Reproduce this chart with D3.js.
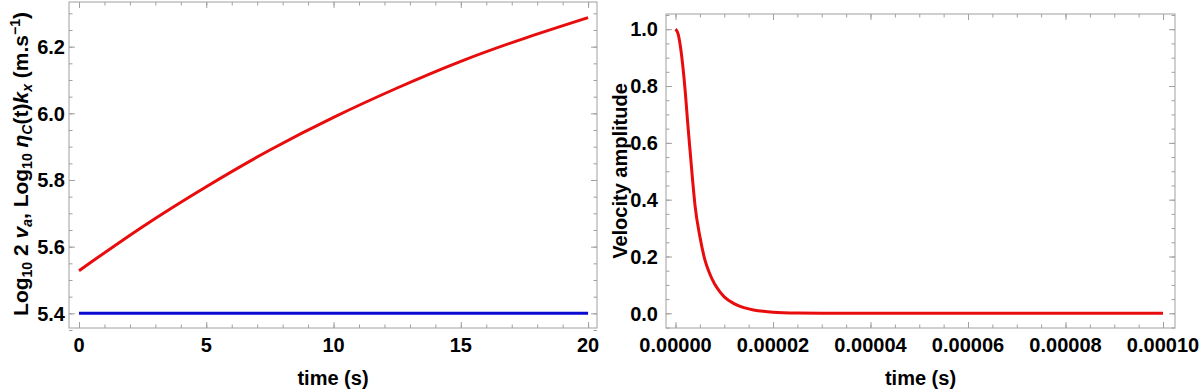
<!DOCTYPE html>
<html lang="en">

<head>
  <meta charset="UTF-8">
  <title>Velocity plots</title>
  <style>
    body { margin: 0; background: #fff; }
    text { font-family: "Liberation Sans", Arial, sans-serif; font-weight: bold; fill: #000; }
  </style>
</head>

<body>
  <script src="https://cdnjs.cloudflare.com/ajax/libs/d3/7.8.5/d3.min.js"></script>
  <script>
    // left panel data (time in s)
    let leftTime = [0, 2.5, 5, 7.5, 10, 12.5, 15, 17.5, 20]
    let leftRed = [5.528, 5.660, 5.780, 5.890, 5.988, 6.076, 6.156, 6.225, 6.287]
    let leftBlue = [5.4, 5.4, 5.4, 5.4, 5.4, 5.4, 5.4, 5.4, 5.4]
    let leftXTicks = [0, 5, 10, 15, 20]
    let leftYTicks = [5.4, 5.6, 5.8, 6.0, 6.2]

    // right panel data
    let rightTime = [0, 0.0000005, 0.000001, 0.0000015, 0.000002, 0.0000025, 0.000003, 0.0000035, 0.000004,
      0.000005, 0.000006, 0.000007, 0.000008, 0.000009, 0.00001, 0.000012, 0.000014, 0.000016,
      0.000018, 0.00002, 0.000025, 0.00003, 0.00004, 0.00006, 0.00008, 0.0001]
    let rightVelocity = [1.0, 0.985, 0.94, 0.87, 0.78, 0.67, 0.57, 0.47, 0.38,
      0.27, 0.19, 0.14, 0.104, 0.078, 0.058, 0.034, 0.02, 0.012,
      0.007, 0.004, 0.001, 0.0003, 0, 0, 0, 0]
    let rightXTicks = [0, 0.00002, 0.00004, 0.00006, 0.00008, 0.0001]
    let rightYTicks = [0, 0.2, 0.4, 0.6, 0.8, 1.0]

    let width = 1200
    let height = 389
    let frameColor = '#a0a0a0'

    let svg = d3.select('body')
      .append('svg')
      .attr('width', width)
      .attr('height', height)

    function drawPanel(p) {
      let x = d3.scaleLinear().domain(p.xDomain).range([p.left, p.right])
      let y = d3.scaleLinear().domain(p.yDomain).range([p.bottom, p.top])
      let g = svg.append('g')

      // frame
      g.append('rect')
        .attr('x', p.left).attr('y', p.top)
        .attr('width', p.right - p.left).attr('height', p.bottom - p.top)
        .attr('fill', 'none').attr('stroke', frameColor).attr('stroke-width', 1)

      // ticks on all four sides, pointing inward
      let sides = [
        { axis: d3.axisBottom, scale: x, at: `translate(0,${p.bottom})` },
        { axis: d3.axisTop, scale: x, at: `translate(0,${p.top})` },
        { axis: d3.axisLeft, scale: y, at: `translate(${p.left},0)` },
        { axis: d3.axisRight, scale: y, at: `translate(${p.right},0)` }
      ]
      sides.forEach(function (sd, i) {
        let isX = i < 2
        let major = isX ? p.xTicks : p.yTicks
        let minor = isX ? p.xMinor : p.yMinor
        ;[[minor, 3.5], [major, 6]].forEach(function (set) {
          let ax = g.append('g')
            .attr('transform', sd.at)
            .call(sd.axis(sd.scale).tickValues(set[0]).tickSize(-set[1]).tickFormat(''))
          ax.select('.domain').remove()
          ax.selectAll('line').attr('stroke', frameColor)
        })
      })

      // tick labels
      g.selectAll('.xlab')
        .data(p.xTicks)
        .enter()
        .append('text')
        .attr('x', function (d) { return x(d) })
        .attr('y', 352)
        .attr('text-anchor', 'middle')
        .attr('font-size', '20px')
        .text(p.xFormat)

      g.selectAll('.ylab')
        .data(p.yTicks)
        .enter()
        .append('text')
        .attr('x', p.left - p.yLabGap)
        .attr('y', function (d) { return y(d) })
        .attr('dy', '0.36em')
        .attr('text-anchor', 'end')
        .attr('font-size', '20px')
        .text(d3.format('.1f'))

      // x title
      g.append('text')
        .attr('x', (p.left + p.right) / 2)
        .attr('y', 385)
        .attr('text-anchor', 'middle')
        .attr('font-size', '20px')
        .text('time (s)')

      // lines
      p.series.forEach(function (s) {
        let pts = s.t.map(function (t, i) { return [t, s.v[i]] })
        g.append('path')
          .datum(pts)
          .attr('fill', 'none')
          .attr('stroke', s.color)
          .attr('stroke-width', 3)
          .attr('d', d3.line()
            .x(function (d) { return x(d[0]) })
            .y(function (d) { return y(d[1]) })
            .curve(p.curve))
      })

      return g
    }

    // left panel
    let leftG = drawPanel({
      left: 69, right: 597, top: 2, bottom: 328,
      xDomain: [-0.393, 20.35], yDomain: [5.356, 6.334],
      xTicks: leftXTicks, yTicks: leftYTicks,
      xMinor: d3.range(0, 21, 1), yMinor: d3.range(5.35, 6.36, 0.05).map(function (v) { return +v.toFixed(2) }),
      xFormat: d3.format('d'), yLabGap: 4,
      curve: d3.curveNatural,
      series: [
        { t: leftTime, v: leftBlue, color: '#0a0ad2' },
        { t: leftTime, v: leftRed, color: '#e80c0c' }
      ]
    })

    // left y title with subscripts
    let lt = leftG.append('text')
      .attr('transform', 'translate(28,164) rotate(-90)')
      .attr('text-anchor', 'middle')
      .attr('font-size', '21px')
    function part(txt, opt) {
      opt = opt || {}
      let t = lt.append('tspan').text(txt)
      if (opt.dy) t.attr('dy', opt.dy)
      if (opt.size) t.attr('font-size', opt.size)
      if (opt.italic) t.attr('font-style', 'italic')
      return t
    }
    part('Log')
    part('10', { dy: 4, size: '14px' })
    part(' 2 ', { dy: -4 })
    part('v', { italic: true })
    part('a', { dy: 4, size: '14px', italic: true })
    part(', Log', { dy: -4 })
    part('10', { dy: 4, size: '14px' })
    part(' ', { dy: -4 })
    part('η', { italic: true })
    part('C', { dy: 4, size: '14px', italic: true })
    part('(t)', { dy: -4 })
    part('k', { italic: true })
    part('x', { dy: 4, size: '14px', italic: true })
    part(' (m.s', { dy: -4 })
    part('−1', { dy: -8, size: '14px' })
    part(')', { dy: 8 })

    // right panel
    let rightG = drawPanel({
      left: 666, right: 1175, top: 14, bottom: 328,
      xDomain: [-0.00000195, 0.00010246], yDomain: [-0.0517, 1.0535],
      xTicks: rightXTicks, yTicks: rightYTicks,
      xMinor: d3.range(0, 21, 1).map(function (i) { return i * 0.000005 }),
      yMinor: d3.range(-1, 22, 1).map(function (i) { return i * 0.05 }),
      xFormat: d3.format('.5f'), yLabGap: 8,
      curve: d3.curveMonotoneX,
      series: [
        { t: rightTime, v: rightVelocity, color: '#e80c0c' }
      ]
    })

    rightG.append('text')
      .attr('transform', 'translate(627,171) rotate(-90)')
      .attr('text-anchor', 'middle')
      .attr('font-size', '20px')
      .text('Velocity amplitude')
  </script>
</body>

</html>
